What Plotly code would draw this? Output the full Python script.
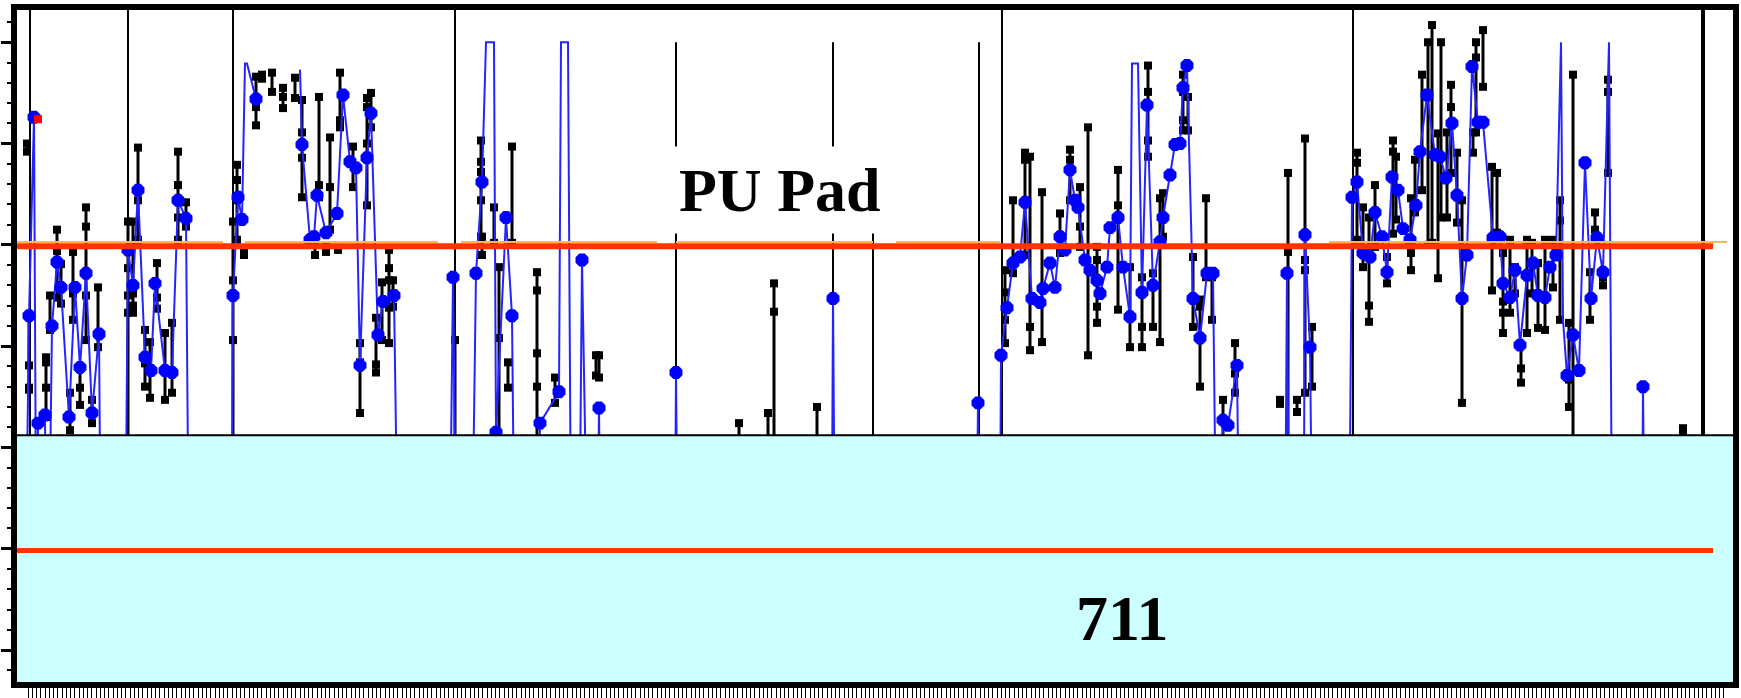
import numpy as np
import plotly.graph_objects as go

# ---------------- data (x = channel, v = value; None = gap in the trace) ----------------
blue_x = [24, 29, 34, 37, 38, 45, 47, 52, 57, 61, 69, 75, 80, 86, 92, 99, 102,
          124, 128, 133, 138, 145, 151, 155, 165, 172, 178, 186, 190,
          231, 233, 238, 242, 245, 247, 256, None, 300, 302, 310, 314, 317, 326, 337, 343, 350, 356, 360, 367, 371, 378, 383, 394, 400,
          448, 453, 458, 470, 476, 482, 486, 494, 496, 506, 512, 516, 536, 540, 559, 561, 568, 572, 578, 582, 590, 596, 599, 602,
          674, 676, 679, 831, 833, 836, 975, 978, 981, 999, 1001,
          1007, 1013, 1020, 1025, 1032, 1040, 1043, 1050, 1055, 1060, 1065, 1070, 1075, 1078, 1085, 1090, 1097, 1100, 1107, 1110,
          1118, 1123, 1130, 1132, 1138, 1142, 1147, 1153, 1160, 1163, 1170, 1175, 1180, 1183, 1187, 1193, 1200, 1207, 1213, 1218,
          1223, 1228, 1237, 1241, 1284, 1287, 1290, 1303, 1305, 1310, 1314, 1348, 1352,
          1357, 1363, 1370, 1375, 1382, 1387, 1392, 1398, 1403, 1410, 1416, 1420, 1427, 1435, 1440, 1446, 1452, 1457, 1462, 1467,
          1472, 1478, 1483, 1493, 1500, 1503, 1510, 1515, 1520, 1527, 1533, 1538, 1545, 1550, 1556, 1561, 1563, 1567, 1573, 1579,
          1585, 1591, 1597, 1603, 1609, 1613, 1641, 1643, 1646]
blue_v = [-60, 330, 526, -60, 224, 232, -60, 320, 383, 358, 230, 358, 279, 372, 234, 312, -60,
          -60, 395, 360, 454, 289, 276, 362, 276, 274, 444, 426, -60,
          -60, 350, 447, 425, 579, 579, 544, None, 573, 499, 405, 408, 449, 412, 431, 548, 482, 476, 281, 486, 530, 311, 344, 350, -60,
          -60, 368, -60, -60, 372, 462, 600, 600, 215, 427, 330, -60, -60, 224, 255, 600, 600, -60, -60, 385, -60, -60, 239, -60,
          -60, 274, -60, -60, 347, -60, -60, 244, -60, -60, 291,
          338, 382, 388, 442, 347, 343, 357, 382, 358, 408, 395, 474, 444, 437, 385, 375, 365, 352, 378, 417,
          427, 378, 329, 579, 579, 353, 538, 360, 403, 427, 469, 499, 500, 555, 577, 347, 308, 372, 372, -60,
          227, 222, 281, -60, -60, 372, -60, -60, 410, 299, -60, -60, 447,
          462, 392, 388, 432, 408, 373, 467, 454, 416, 405, 439, 492, 548, 489, 487, 466, 520, 449, 347, 390,
          576, 521, 521, 407, 408, 362, 348, 375, 301, 370, 382, 350, 348, 378, 390, 600, 326, 271, 311, 276,
          481, 347, 407, 373, 600, -60, -60, 260, -60]
blue_mark = [0, 1, 1, 0, 1, 1, 0, 1, 1, 1, 1, 1, 1, 1, 1, 1, 0,
             0, 1, 1, 1, 1, 1, 1, 1, 1, 1, 1, 0,
             0, 1, 1, 1, 0, 0, 1, 0, 0, 1, 1, 1, 1, 1, 1, 1, 1, 1, 1, 1, 1, 1, 1, 1, 0,
             0, 1, 0, 0, 1, 1, 0, 0, 1, 1, 1, 0, 0, 1, 1, 0, 0, 0, 0, 1, 0, 0, 1, 0,
             0, 1, 0, 0, 1, 0, 0, 1, 0, 0, 1,
             1, 1, 1, 1, 1, 1, 1, 1, 1, 1, 1, 1, 1, 1, 1, 1, 1, 1, 1, 1,
             1, 1, 1, 0, 0, 1, 1, 1, 1, 1, 1, 1, 1, 1, 1, 1, 1, 1, 1, 0,
             1, 1, 1, 0, 0, 1, 0, 0, 1, 1, 0, 0, 1,
             1, 1, 1, 1, 1, 1, 1, 1, 1, 1, 1, 1, 1, 1, 1, 1, 1, 1, 1, 1,
             1, 1, 1, 1, 1, 1, 1, 1, 1, 1, 1, 1, 1, 1, 1, 0, 0, 1, 1, 1,
             1, 1, 1, 1, 0, 0, 0, 1, 0]

bar_x = [27, 29, 46, 50, 57, 61, 70, 73, 80, 86, 92, 98,
         128, 133, 138, 145, 150, 157, 165, 172, 178, 186,
         233, 237, 244, 256, 262, 272, 283, 295, 302, 315, 319, 326, 330, 338, 340, 353, 360, 367, 371, 376, 382, 389, 393,
         455, 481, 482, 494, 499, 508, 512, 537, 555, 596, 599, 739, 768, 774, 817,
         1005, 1013, 1025, 1030, 1042, 1060, 1070, 1080, 1088, 1097, 1118, 1130, 1142, 1148, 1153, 1160, 1163, 1183, 1188,
         1193, 1200, 1206, 1212, 1223, 1235, 1280, 1288, 1297, 1305, 1312,
         1357, 1363, 1369, 1375, 1387, 1393, 1396, 1411, 1415, 1422, 1428, 1432, 1438, 1441, 1447, 1451, 1457, 1462, 1473,
         1476, 1483, 1492, 1497, 1503, 1510, 1515, 1521, 1527, 1532, 1538, 1545, 1553, 1560, 1569, 1573, 1590, 1595, 1603,
         1608, 1683]
bar_top = [500, 330, 289, 350, 415, 381, 254, 393, 279, 437, 247, 358,
           423, 423, 496, 316, 304, 382, 313, 323, 492, 442,
           423, 479, 395, 566, 568, 570, 555, 565, 543, 408, 546, 398, 506, 397, 570, 497, 303, 545, 550, 328, 363, 395, 365,
           306, 503, 408, 437, 378, 284, 497, 373, 269, 291, 291, 224, 234, 362, 240,
           375, 444, 491, 487, 452, 431, 494, 457, 516, 398, 474, 378, 368, 577, 372, 446, 451, 568, 546,
           388, 346, 446, 368, 247, 303, 247, 471, 247, 505, 319,
           491, 437, 427, 459, 388, 503, 487, 446, 484, 568, 600, 617, 510, 600, 511, 558, 491, 444, 511,
           600, 612, 477, 471, 392, 405, 378, 301, 405, 402, 382, 405, 405, 444, 323, 568, 373, 432, 368,
           563, 219]
bar_bot = [492, 257, 230, 316, 348, 342, 217, 326, 242, 306, 224, 299,
           195, 333, 405, 260, 249, 337, 247, 254, 405, 418,
           195, 405, 390, 518, 564, 551, 535, 545, 447, 390, 447, 393, 415, 395, 516, 457, 234, 439, 516, 274, 306, 303, 339,
           195, 408, 390, 402, 195, 259, 402, 195, 244, 271, 269, 195, 195, 195, 195,
           303, 372, 390, 296, 304, 392, 444, 398, 291, 323, 336, 299, 299, 487, 319, 304, 408, 513, 513,
           319, 260, 368, 326, 195, 254, 243, 195, 235, 254, 260,
           405, 378, 324, 398, 362, 411, 425, 375, 432, 454, 400, 402, 367, 427, 427, 471, 422, 244, 491,
           511, 556, 355, 412, 313, 333, 352, 264, 313, 352, 318, 316, 358, 326, 240, 195, 326, 415, 360,
           471, 215]

mid_x = [29, 29, 46, 46, 57, 73, 80, 86, 86, 128, 128, 128, 133, 133, 138, 145, 157, 178, 178, 178,
         233, 233, 233, 237, 237, 256, 283, 302, 302, 315, 319, 330, 340, 360, 367, 367, 376, 389, 389, 389,
         481, 481, 481, 499, 537, 537, 537, 774,
         1005, 1005, 1025, 1030, 1070, 1080, 1097, 1097, 1118, 1142, 1148, 1148, 1183, 1183, 1200, 1235, 1288, 1305, 1305,
         1357, 1369, 1393, 1411, 1451, 1476, 1503, 1503, 1521, 1560, 1569, 1608]
mid_v = [281, 259, 284, 259, 394, 352, 259, 418, 350, 377, 350, 333, 352, 340, 444, 283, 348, 459, 444, 427,
         365, 350, 306, 464, 444, 536, 546, 511, 486, 400, 459, 457, 523, 284, 536, 500, 282, 377, 365, 338,
         482, 472, 444, 308, 355, 293, 260, 334,
         353, 326, 484, 319, 484, 418, 385, 339, 439, 319, 551, 503, 551, 523, 339, 273, 393, 385, 375,
         481, 340, 492, 392, 536, 585, 344, 333, 278, 424, 267, 551]

red_x = [38]
red_v = [524]

separators_full = [30, 128, 233, 455, 1002, 1353]
separators_short = [676, 833, 979]
separator_mid = [873]
separator_thick = [1703]
orange_segments = [(14, 223), (245, 438), (461, 657), (676, 873), (896, 1000), (1329, 1727)]

limit_upper = 398.5
limit_lower = 98.3
cyan_top = 212
label_main = "PU Pad"
label_box = "711"

Y_MIN, Y_MAX = -34.5, 634.8
X_MIN, X_MAX = 14, 1736

# ---------------- figure ----------------
fig = go.Figure()

lx, ly = [], []
for x, t, b in zip(bar_x, bar_top, bar_bot):
    lx += [x, x, None]
    ly += [t, b, None]
fig.add_trace(go.Scatter(x=lx, y=ly, mode="lines", line=dict(color="black", width=3),
                         hoverinfo="skip"))
fig.add_trace(go.Scatter(x=bar_x + bar_x, y=bar_top + bar_bot, mode="markers",
                         marker=dict(symbol="square", size=8, color="black"), hoverinfo="skip"))
fig.add_trace(go.Scatter(x=mid_x, y=mid_v, mode="markers",
                         marker=dict(symbol="square", size=8, color="black"), hoverinfo="skip"))

fig.add_trace(go.Scatter(x=blue_x, y=blue_v, mode="lines", connectgaps=False,
                         line=dict(color="#2424FF", width=2), hoverinfo="skip"))
mx = [x for x, m in zip(blue_x, blue_mark) if m]
mv = [v for v, m in zip(blue_v, blue_mark) if m]
fig.add_trace(go.Scatter(x=mx, y=mv, mode="markers",
                         marker=dict(symbol="octagon", size=14, color="#0000FF",
                                     line=dict(width=0)), hoverinfo="skip"))
fig.add_trace(go.Scatter(x=red_x, y=red_v, mode="markers",
                         marker=dict(symbol="square", size=8, color="#FF0000"), hoverinfo="skip"))

shapes = []
for sx in separators_full:
    shapes.append(dict(type="line", xref="x", yref="y", x0=sx, x1=sx, y0=Y_MAX, y1=cyan_top,
                       line=dict(color="black", width=2), layer="below"))
for sx in separators_short:
    shapes.append(dict(type="line", xref="x", yref="y", x0=sx, x1=sx, y0=600, y1=cyan_top,
                       line=dict(color="black", width=2), layer="below"))
for sx in separator_mid:
    shapes.append(dict(type="line", xref="x", yref="y", x0=sx, x1=sx, y0=415, y1=cyan_top,
                       line=dict(color="black", width=2), layer="below"))
for sx in separator_thick:
    shapes.append(dict(type="line", xref="x", yref="y", x0=sx, x1=sx, y0=Y_MAX, y1=cyan_top,
                       line=dict(color="black", width=4), layer="above"))
shapes.append(dict(type="rect", xref="paper", yref="y", x0=0, x1=1, y0=Y_MIN, y1=cyan_top,
                   fillcolor="#CCFFFF", line=dict(color="black", width=2), layer="above"))
for a, b in orange_segments:
    shapes.append(dict(type="line", xref="x", yref="y", x0=a, x1=b, y0=402.8, y1=402.8,
                       line=dict(color="#FFB84D", width=2), layer="above"))
shapes.append(dict(type="line", xref="x", yref="y", x0=X_MIN, x1=1713, y0=limit_upper, y1=limit_upper,
                   line=dict(color="#FF3300", width=6), layer="above"))
shapes.append(dict(type="line", xref="x", yref="y", x0=X_MIN, x1=1713, y0=limit_lower, y1=limit_lower,
                   line=dict(color="#FF3300", width=5), layer="above"))
shapes.append(dict(type="rect", xref="paper", yref="paper", x0=0, x1=1, y0=0, y1=1,
                   line=dict(color="black", width=6), fillcolor="rgba(0,0,0,0)", layer="above"))

annotations = [
    dict(x=780, y=454, xref="x", yref="y", text="<b>" + label_main + "</b>", showarrow=False,
         font=dict(family="Liberation Serif", size=62, color="black"),
         bgcolor="white", borderpad=9),
    dict(x=1122, y=31, xref="x", yref="y", text="<b>" + label_box + "</b>", showarrow=False,
         font=dict(family="Liberation Serif", size=64, color="black")),
]

xticks = list(np.arange(28, 1726, 4.25))

fig.update_layout(
    width=1741, height=698,
    margin=dict(l=14, r=5, t=7, b=13, pad=0, autoexpand=False),
    paper_bgcolor="white", plot_bgcolor="white",
    showlegend=False,
    shapes=shapes, annotations=annotations,
    xaxis=dict(range=[X_MIN, X_MAX], showgrid=False, zeroline=False, showline=False, automargin=False,
               showticklabels=False, ticks="outside", ticklen=13, tickwidth=1.3, tickcolor="black",
               tickmode="array", tickvals=xticks),
    yaxis=dict(range=[Y_MIN, Y_MAX], showgrid=False, zeroline=False, showline=False, automargin=False,
               showticklabels=False, ticks="outside", ticklen=12, tickwidth=3, tickcolor="black",
               tickmode="array", tickvals=[0, 100, 200, 300, 400, 500, 600],
               minor=dict(ticks="outside", ticklen=6, tickwidth=2, tickcolor="black",
                          tickmode="array",
                          tickvals=[v for v in range(-20, 621, 20) if v % 100 != 0])),
)

fig.write_html("out.html", config={"displayModeBar": False},
               post_script="document.body.style.margin='0';document.body.style.overflow='hidden';")
